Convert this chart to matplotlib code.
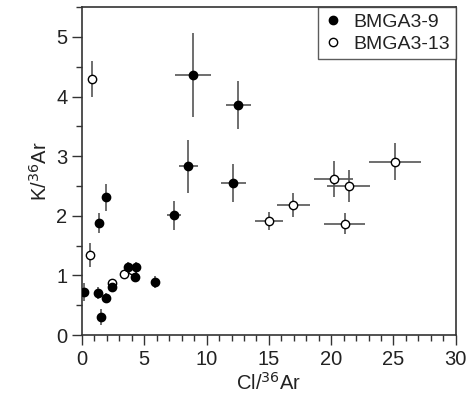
import matplotlib
matplotlib.use("Agg")
import matplotlib.pyplot as plt
from matplotlib.ticker import MultipleLocator
from matplotlib.lines import Line2D

plt.rcParams['font.family'] = ['Liberation Sans', 'DejaVu Sans']

# BMGA3-9 (filled)
x9 = [8.93, 12.53, 8.53, 12.13, 7.38, 1.90, 1.36, 0.13, 1.26, 1.90, 1.52, 2.43, 3.72, 4.36, 4.25, 5.85]
y9 = [4.36, 3.86, 2.83, 2.55, 2.01, 2.31, 1.88, 0.72, 0.71, 0.62, 0.30, 0.80, 1.14, 1.14, 0.97, 0.89]
xe9 = [1.43, 1.00, 0.78, 1.00, 0.57, 0.15, 0.15, 0.15, 0.15, 0.15, 0.15, 0.15, 0.2, 0.2, 0.2, 0.2]
ye9 = [0.70, 0.41, 0.44, 0.32, 0.24, 0.23, 0.16, 0.15, 0.10, 0.08, 0.13, 0.08, 0.08, 0.08, 0.08, 0.10]

# BMGA3-13 (open)
x13 = [0.83, 0.64, 2.43, 3.37, 3.98, 15.0, 16.95, 20.2, 21.4, 21.07, 25.1]
y13 = [4.29, 1.35, 0.87, 1.03, 1.09, 1.91, 2.18, 2.62, 2.50, 1.87, 2.91]
xe13 = [0.15, 0.15, 0.15, 0.15, 0.2, 1.15, 1.32, 1.58, 1.70, 1.67, 2.07]
ye13 = [0.30, 0.20, 0.06, 0.06, 0.06, 0.15, 0.20, 0.30, 0.27, 0.17, 0.31]

fig = plt.figure(figsize=(4.67, 3.98), dpi=100)
ax = fig.add_axes([0.1756, 0.158, 0.8004, 0.824])

ax.errorbar(x13, y13, xerr=xe13, yerr=ye13, fmt='o', mfc='white', mec='black',
            ms=6, mew=1.0, ecolor='#555555', elinewidth=1.2, capsize=0, zorder=2)
ax.errorbar(x9, y9, xerr=xe9, yerr=ye9, fmt='o', mfc='black', mec='black',
            ms=6, mew=1.0, ecolor='#555555', elinewidth=1.2, capsize=0, zorder=3)

ax.set_xlim(0, 30)
ax.set_ylim(0, 5.5)
ax.xaxis.set_major_locator(MultipleLocator(5))
ax.xaxis.set_minor_locator(MultipleLocator(1))
ax.yaxis.set_major_locator(MultipleLocator(1))
ax.yaxis.set_minor_locator(MultipleLocator(0.5))
ax.tick_params(which='major', direction='out', length=7, width=1, labelsize=14.5, top=False, right=False,
               colors='#333333', labelcolor='#222222')
ax.tick_params(which='minor', direction='out', length=4, width=1, top=False, right=False, colors='#333333')
for s in ax.spines.values():
    s.set_linewidth(1.2)
    s.set_color('#333333')

ax.set_xlabel('Cl/$^{36}$Ar', fontsize=14.5, labelpad=2, color='#222222')
ax.set_ylabel('K/$^{36}$Ar', fontsize=14.5, labelpad=4, color='#222222')

handles = [Line2D([], [], ls='none', marker='o', mfc='black', mec='black', ms=6),
           Line2D([], [], ls='none', marker='o', mfc='white', mec='black', ms=6)]
leg = ax.legend(handles, ['BMGA3-9', 'BMGA3-13'], loc='upper right', fontsize=14, frameon=True,
                fancybox=False, edgecolor='#333333', borderaxespad=0, handlelength=0.9,
                handletextpad=0.6, borderpad=0.3, labelspacing=0.25)
leg.get_frame().set_linewidth(1.0)
for t in leg.get_texts():
    t.set_color('#222222')

fig.savefig('out.png', dpi=100)
